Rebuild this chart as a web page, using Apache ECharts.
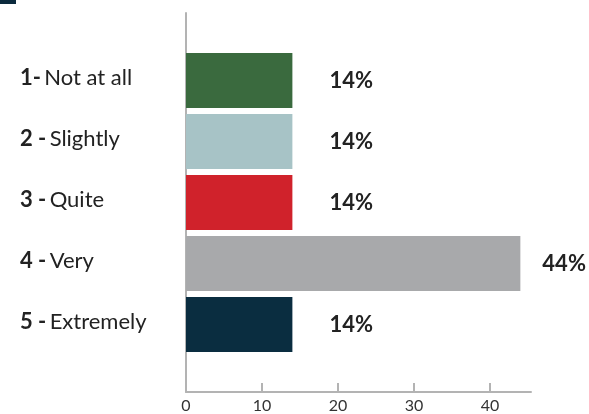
<!DOCTYPE html>
<html>
<head>
<meta charset="utf-8">
<script src="https://cdn.jsdelivr.net/npm/echarts@6/dist/echarts.min.js"></script>
<style>
  html, body { margin: 0; padding: 0; background: #fff; }
  #chart { width: 589px; height: 414px; }
</style>
</head>
<body>
<div id="chart"></div>
<script>
// data
var levels = ['1-', '2 -', '3 -', '4 -', '5 -'];
var answers = ['Not at all', 'Slightly', 'Quite', 'Very', 'Extremely'];
var shares = [14, 14, 14, 44, 14];
var barColors = ['#3a6a3e', '#a7c3c6', '#d0222b', '#a8a9ab', '#0a2d40'];
var xTicks = [0, 10, 20, 30, 40];

var font = 'Lato';
var axisGray = '#b3b3b3';

var categories = levels.map(function (n, i) { return n + '|' + answers[i]; });

var barData = shares.map(function (v, i) {
  return {
    value: v,
    itemStyle: { color: barColors[i] },
    label: { distance: v === Math.max.apply(null, shares) ? 22 : 37 }
  };
});

var chart = echarts.init(document.getElementById('chart'));
chart.setOption({
  animation: false,
  graphic: [
    { type: 'rect', shape: { x: 0, y: 0, width: 16, height: 4 }, style: { fill: '#0b2a3d' } }
  ],
  grid: [
    { left: 186, right: 58, top: 13, bottom: 22 },
    { left: 186, right: 58, top: 50, bottom: 59 }
  ],
  xAxis: [
    {
      gridIndex: 0, type: 'value', min: 0, max: 45.4, interval: 10,
      axisLine: { show: true, lineStyle: { color: axisGray, width: 2 } },
      axisTick: { show: true, inside: true, length: 9, customValues: xTicks, lineStyle: { color: axisGray, width: 2 } },
      axisLabel: { customValues: xTicks, margin: 6, fontFamily: font, fontSize: 16, color: '#333' },
      splitLine: { show: false }
    },
    {
      gridIndex: 1, type: 'value', min: 0, max: 45.4, show: false
    }
  ],
  yAxis: [
    {
      gridIndex: 0, type: 'value', min: 0, max: 1,
      axisLine: { show: true, lineStyle: { color: axisGray, width: 2 } },
      axisTick: { show: false }, axisLabel: { show: false }, splitLine: { show: false }
    },
    {
      gridIndex: 1, type: 'category', inverse: true, data: categories,
      axisLine: { show: false }, axisTick: { show: false },
      axisLabel: {
        align: 'left', margin: 166, verticalAlign: 'middle', padding: [0, 0, 6, 0],
        formatter: function (val) {
          var p = val.split('|');
          return '{n|' + p[0] + '} {t|' + p[1] + '}';
        },
        rich: {
          n: { fontFamily: font, fontSize: 22, fontWeight: 'bold', color: '#222' },
          t: { fontFamily: font, fontSize: 22, color: '#222' }
        }
      }
    }
  ],
  series: [
    {
      type: 'bar', xAxisIndex: 1, yAxisIndex: 1, data: barData,
      barCategoryGap: '10%',
      label: {
        show: true, position: 'right', formatter: '{c}%',
        fontFamily: font, fontSize: 22, fontWeight: 'bold', color: '#222'
      }
    }
  ]
});
</script>
</body>
</html>
